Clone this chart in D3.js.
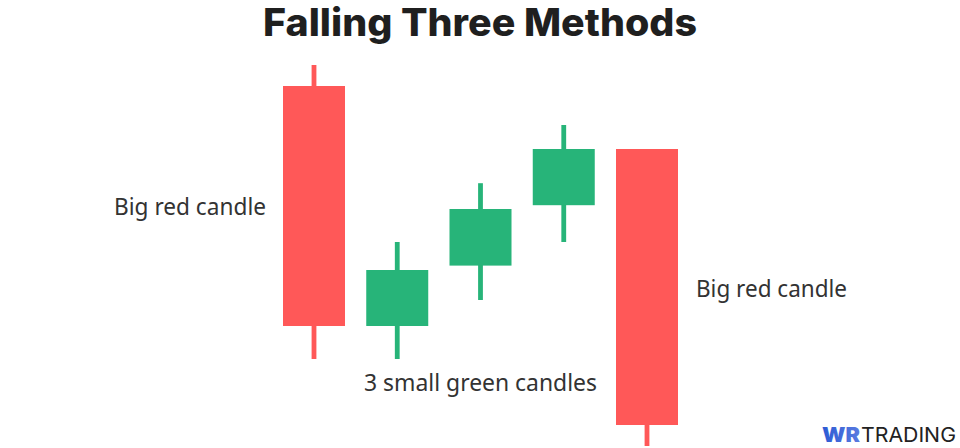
<!DOCTYPE html>
<html>
<head>
<meta charset="utf-8">
<script src="https://cdn.jsdelivr.net/npm/d3@7"></script>
<style>
  html, body { margin: 0; padding: 0; background: #ffffff; }
  svg { display: block; }
</style>
</head>
<body>
<script>
// ---- Data (arbitrary price units) ----
const candleIds = ["c1", "c2", "c3", "c4", "c5"];
const opens  = [95.0, 35.0, 50.1, 65.2, 79.25];
const closes = [35.0, 49.0, 64.25, 79.25, 10.25];
const highs  = [100.25, 56.0, 70.7, 85.25, 79.25];
const lows   = [26.75, 26.75, 41.5, 56.0, 5.0];

const titleText = "Falling Three Methods";
const labels = [
  { text: "Big red candle", anchor: "end", idx: 0 },
  { text: "Big red candle", anchor: "start", idx: 4 },
  { text: "3 small green candles", anchor: "middle", idx: 2 }
];
const logoParts = ["WR", "TRADING"];

const W = 960, H = 448;
const RED = "#FF5858", GREEN = "#27B479";

const svg = d3.select("body").append("svg")
  .attr("width", W).attr("height", H)
  .attr("viewBox", `0 0 ${W} ${H}`);

svg.append("rect").attr("width", W).attr("height", H).attr("fill", "#ffffff");

const x = d3.scaleBand()
  .domain(candleIds)
  .range([283, 678])
  .paddingInner(0.2553)
  .paddingOuter(0);

const y = d3.scaleLinear().domain([0, 100]).range([466, 66]);

const data = candleIds.map((id, i) => ({
  id, open: opens[i], close: closes[i], high: highs[i], low: lows[i]
}));

const g = svg.append("g");

const candle = g.selectAll("g.candle").data(data).join("g").attr("class", "candle");

candle.append("rect")
  .attr("x", d => x(d.id) + x.bandwidth() / 2 - 2.4)
  .attr("width", 4.8)
  .attr("y", d => y(d.high))
  .attr("height", d => y(d.low) - y(d.high))
  .attr("fill", d => d.close >= d.open ? GREEN : RED);

candle.append("rect")
  .attr("x", d => x(d.id))
  .attr("width", x.bandwidth())
  .attr("y", d => y(Math.max(d.open, d.close)))
  .attr("height", d => y(Math.min(d.open, d.close)) - y(Math.max(d.open, d.close)))
  .attr("fill", d => d.close >= d.open ? GREEN : RED);

// Title
svg.append("text")
  .attr("x", 480).attr("y", 36)
  .attr("text-anchor", "middle")
  .attr("font-family", "Inter, 'Noto Sans', sans-serif")
  .attr("font-weight", 800)
  .attr("font-size", 38)
  .attr("fill", "#1f1f1f")
  .attr("textLength", 434)
  .attr("lengthAdjust", "spacingAndGlyphs")
  .text(titleText);

// Labels
const labelFont = "'Noto Sans', 'Open Sans', sans-serif";
svg.append("text")
  .attr("x", x(candleIds[0]) - 17).attr("y", 215)
  .attr("text-anchor", "end")
  .attr("font-family", labelFont).attr("font-size", 23)
  .attr("fill", "#333333")
  .attr("textLength", 152).attr("lengthAdjust", "spacingAndGlyphs")
  .text(labels[0].text);

svg.append("text")
  .attr("x", x(candleIds[4]) + x.bandwidth() + 18).attr("y", 297)
  .attr("text-anchor", "start")
  .attr("font-family", labelFont).attr("font-size", 23)
  .attr("fill", "#333333")
  .attr("textLength", 151).attr("lengthAdjust", "spacingAndGlyphs")
  .text(labels[1].text);

svg.append("text")
  .attr("x", 480.5).attr("y", 391)
  .attr("text-anchor", "middle")
  .attr("font-family", labelFont).attr("font-size", 23)
  .attr("fill", "#333333")
  .attr("textLength", 233).attr("lengthAdjust", "spacingAndGlyphs")
  .text(labels[2].text);

// Logo
const defs = svg.append("defs");
const grad = defs.append("linearGradient").attr("id", "wrg")
  .attr("x1", "0").attr("x2", "1").attr("y1", "0").attr("y2", "0");
grad.append("stop").attr("offset", "0%").attr("stop-color", "#2C5BD4");
grad.append("stop").attr("offset", "100%").attr("stop-color", "#5A7BE0");

svg.append("text")
  .attr("x", 822).attr("y", 442)
  .attr("font-family", "Inter, 'Noto Sans', sans-serif")
  .attr("font-size", 20)
  .attr("font-weight", 900)
  .attr("fill", "url(#wrg)")
  .attr("textLength", 38).attr("lengthAdjust", "spacingAndGlyphs")
  .text(logoParts[0]);

svg.append("text")
  .attr("x", 861).attr("y", 442)
  .attr("font-family", "Inter, 'Noto Sans', sans-serif")
  .attr("font-size", 20)
  .attr("font-weight", 400)
  .attr("fill", "#222222")
  .attr("textLength", 95).attr("lengthAdjust", "spacingAndGlyphs")
  .text(logoParts[1]);
</script>
</body>
</html>
